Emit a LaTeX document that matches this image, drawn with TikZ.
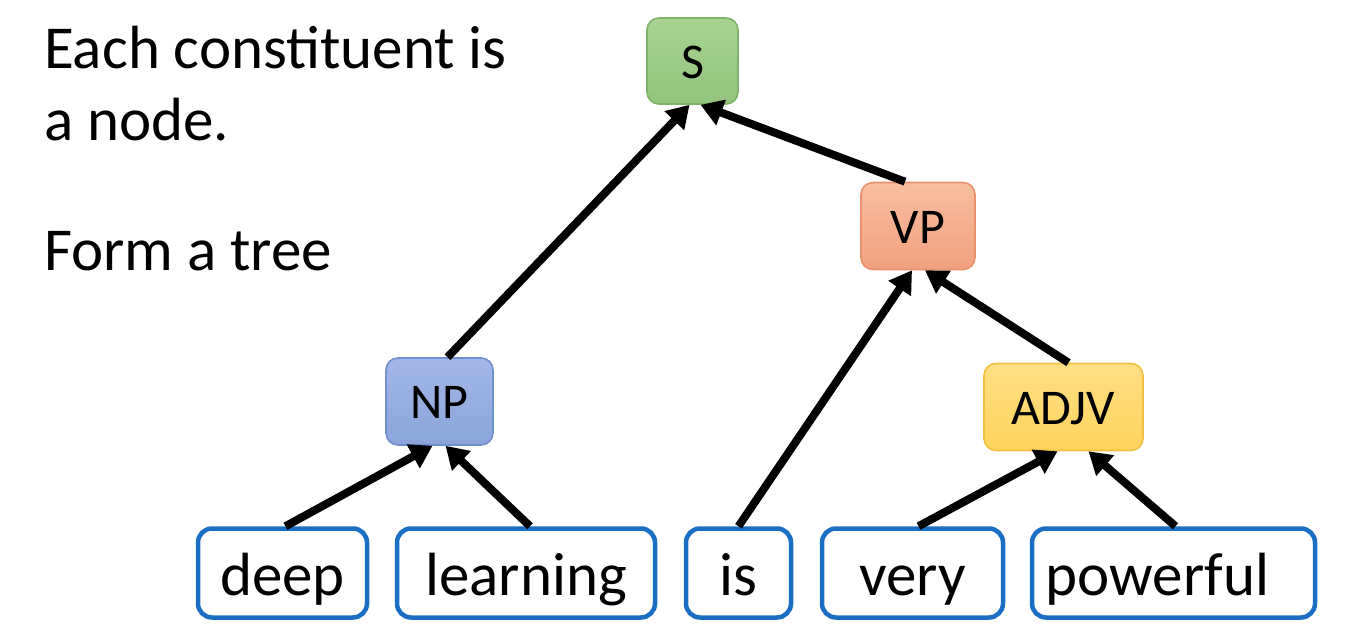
\documentclass[tikz,border=0pt]{standalone}
\usepackage{fontspec}
\setmainfont{Carlito}
\usetikzlibrary{arrows.meta,shapes.misc}
\definecolor{wordblue}{HTML}{1A6FC4}
\definecolor{sTop}{HTML}{A9D391}
\definecolor{sBot}{HTML}{93C47D}
\definecolor{sLine}{HTML}{7EB36A}
\definecolor{npTop}{HTML}{A3B7E8}
\definecolor{npBot}{HTML}{8AA4D9}
\definecolor{npLine}{HTML}{6F8FCF}
\definecolor{vpTop}{HTML}{F8BE9F}
\definecolor{vpBot}{HTML}{F2A07F}
\definecolor{vpLine}{HTML}{E8916C}
\definecolor{adTop}{HTML}{FFDF85}
\definecolor{adBot}{HTML}{FFD35C}
\definecolor{adLine}{HTML}{F2C040}
\tikzset{
  phrase/.style={rounded corners=12pt, line width=1.6pt, inner sep=0pt,
    minimum height=87pt, font=\fontsize{50}{60}\selectfont,
    text height=34pt, text depth=0pt},
  wordbox/.style={draw=wordblue, line width=4.5pt, rounded corners=14pt, fill=white,
    inner sep=0pt, minimum height=89pt, font=\fontsize{61}{72}\selectfont,
    text height=52pt, text depth=8pt},
  treearrow/.style={line width=8pt, -{Triangle[length=22pt,width=26pt]}},
  lefttext/.style={anchor=base west, inner sep=0pt, font=\fontsize{61}{72}\selectfont}
}
\begin{document}
\begin{tikzpicture}[x=1pt,y=-1pt]
\useasboundingbox (0,0) rectangle (1354,637);
% left text
\node[lefttext] (t1) at (44,68) {Each constituent is};
\node[lefttext] (t2) at (44,140) {a node.};
\node[lefttext] (t3) at (44,270) {Form a tree};
% phrase nodes
\node[phrase, draw=sLine, top color=sTop, bottom color=sBot, minimum width=91pt, minimum height=86pt] (S) at (692.5,61) {S};
\node[phrase, draw=npLine, top color=npTop, bottom color=npBot, minimum width=107pt] (NP) at (439.5,401.5) {NP};
\node[phrase, draw=vpLine, top color=vpTop, bottom color=vpBot, minimum width=114pt] (VP) at (918,226) {VP};
\node[phrase, draw=adLine, top color=adTop, bottom color=adBot, minimum width=159pt] (ADJV) at (1063.5,407) {ADJV};
% word nodes
\node[wordbox, minimum width=169pt] (deep) at (282.5,573) {deep};
\node[wordbox, minimum width=258pt] (learning) at (526,573) {learning};
\node[wordbox, minimum width=105pt] (is) at (738.5,573) {is};
\node[wordbox, minimum width=181pt] (very) at (912.5,573) {very};
\node[wordbox, minimum width=283pt] (powerful) at (1173.5,573) {powerful\kern32pt};
% arrows
\draw[treearrow] ([xshift=8pt]NP.north) -- ([xshift=-3pt]S.south);
\draw[treearrow] ([xshift=-13pt]VP.north) -- ([xshift=8pt]S.south);
\draw[treearrow] ([xshift=3pt]deep.north) -- ([xshift=-7pt]NP.south);
\draw[treearrow] ([xshift=4pt]learning.north) -- ([xshift=6pt]NP.south);
\draw[treearrow] (is.north) -- ([xshift=-6pt]VP.south);
\draw[treearrow] ([xshift=5pt]ADJV.north) -- ([xshift=7pt]VP.south);
\draw[treearrow] ([xshift=6pt]very.north) -- ([xshift=-6pt]ADJV.south);
\draw[treearrow] ([xshift=2pt]powerful.north) -- ([xshift=25pt]ADJV.south);
\end{tikzpicture}
\end{document}
